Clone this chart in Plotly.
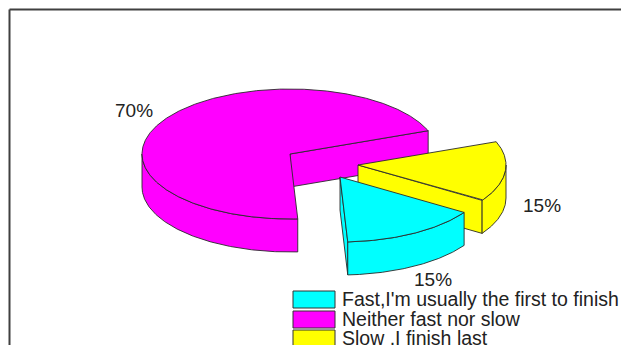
import numpy as np
import plotly.graph_objects as go

# Survey answers and their shares of the whole, in percent
categories = ["Fast,I'm usually the first to finish", "Neither fast nor slow", "Slow ,I finish last"]
shares = [15, 70, 15]
share_labels = ["15%", "70%", "15%"]
colors = ["#00ffff", "#ff00ff", "#ffff00"]

# Projection of the tilted disc, in the axis units (one unit = one screen pixel)
CENTER = (290, 154)
RX, RY = 148, 65
DEPTH = 33
START_ANGLE = 327  # slices run clockwise from here
EXPLODE = [(50, 23), (0, 0), (68, 11)]
LABEL_POS = [(433, 279), (134, 110), (542, 205)]
EDGE = "#2a2a2a"
TEXT = "#222222"
FONT = "Liberation Sans"

fig = go.Figure()


def rim(ox, oy, a0, a1, drop=0):
    """Points along the ellipse rim between two angles (degrees, counter-clockwise)."""
    t = np.radians(np.linspace(a0, a1, max(3, int(abs(a1 - a0)) * 2)))
    return ox + RX * np.cos(t), oy - RY * np.sin(t) + drop


def face(xs, ys, color):
    fig.add_trace(go.Scatter(
        x=list(xs) + [xs[0]], y=list(ys) + [ys[0]], mode="lines", fill="toself",
        fillcolor=color, line=dict(color=EDGE, width=0.9), hoverinfo="skip", showlegend=False,
    ))


def wall(ox, oy, a0, a1, color):
    """Outer curved wall of a slice between two angles."""
    x, y = rim(ox, oy, a0, a1)
    xb, yb = rim(ox, oy, a0, a1, DEPTH)
    face(np.r_[x, xb[::-1]], np.r_[y, yb[::-1]], color)


def radial(ox, oy, angle, color):
    """Flat cut wall running from the slice apex out to the rim at one angle."""
    px = ox + RX * np.cos(np.radians(angle))
    py = oy - RY * np.sin(np.radians(angle))
    face([ox, px, px, ox], [oy, py, py + DEPTH, oy + DEPTH], color)


def top(ox, oy, a0, a1, color):
    x, y = rim(ox, oy, a0, a1)
    face(np.r_[ox, x], np.r_[oy, y], color)


# Angular span of every slice, counter-clockwise (low, high)
spans = []
angle = START_ANGLE
for s in shares:
    sweep = s / sum(shares) * 360
    spans.append((angle - sweep, angle))
    angle -= sweep

# Slice parts drawn back to front: cut wall, curved wall facing the viewer, top
# Each entry: slice index, cut-wall angle, span of the visible curved wall
draw_order = [
    (1, spans[1][0], (180, spans[1][1])),
    (2, spans[2][0], (spans[2][0], 0)),
    (0, spans[0][0], spans[0]),
]
for i, cut, (w0, w1) in draw_order:
    ox, oy = CENTER[0] + EXPLODE[i][0], CENTER[1] + EXPLODE[i][1]
    radial(ox, oy, cut, colors[i])
    wall(ox, oy, w0, w1, colors[i])
    top(ox, oy, spans[i][0], spans[i][1], colors[i])

annotations = []
for (lx, ly), text in zip(LABEL_POS, share_labels):
    annotations.append(dict(x=lx, y=ly, xref="x", yref="y", text=text, showarrow=False,
                            font=dict(family=FONT, size=19, color=TEXT)))

# Legend block: swatch plus label, one row per category
shapes = []
legend_tops = [291, 311, 330]
for y0, name, color in zip(legend_tops, categories, colors):
    shapes.append(dict(type="rect", xref="x", yref="y", x0=293, x1=335, y0=y0, y1=y0 + 17,
                       fillcolor=color, line=dict(color="#333333", width=1)))
    annotations.append(dict(x=340, y=y0 + 8, xref="x", yref="y", text=name, showarrow=False,
                            xanchor="left", font=dict(family=FONT, size=19.5, color=TEXT)))

# Chart frame, running off the right and bottom of the page
for x0, y0, x1, y1 in [(9.5, 9.5, 640, 9.5), (9.5, 9.5, 9.5, 360)]:
    shapes.append(dict(type="line", xref="x", yref="y", x0=x0, y0=y0, x1=x1, y1=y1,
                       line=dict(color="#404040", width=2)))

fig.update_layout(
    width=621, height=345, margin=dict(l=0, r=0, t=0, b=0),
    paper_bgcolor="white", plot_bgcolor="white", showlegend=False,
    xaxis=dict(range=[0, 621], visible=False, fixedrange=True),
    yaxis=dict(range=[345, 0], visible=False, fixedrange=True),
    shapes=shapes, annotations=annotations,
)
fig.write_html("out.html", config={"displayModeBar": False})
